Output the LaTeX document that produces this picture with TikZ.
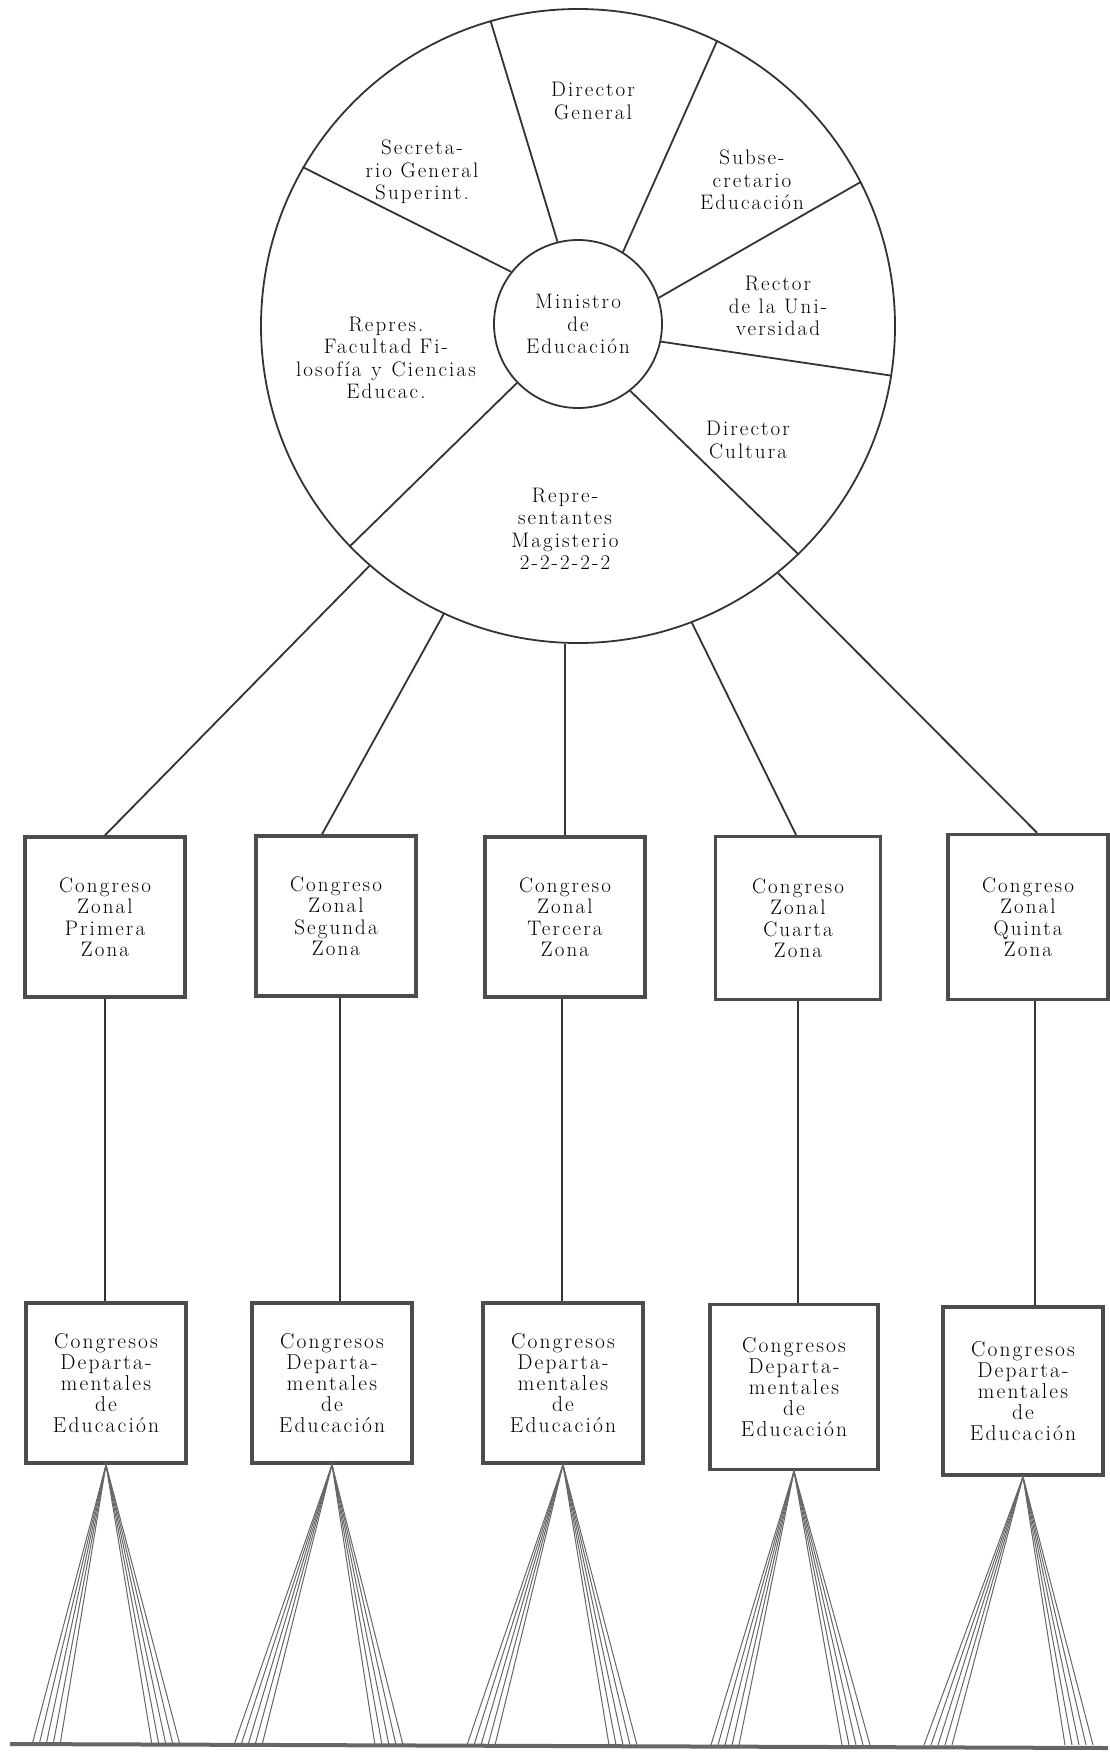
\documentclass[tikz,border=0pt]{standalone}
\usepackage{fontspec}
\newfontfamily\widefont[LetterSpace=10]{Latin Modern Roman}
\begin{document}
\begin{tikzpicture}[x=1pt,y=1pt,
  ring/.style={circle,draw=black!80,line width=1.8pt,inner sep=0pt},
  lbl/.style={align=center,inner sep=0pt,font=\widefont\fontsize{21}{22.5}\selectfont},
  zonebox/.style={draw=black!70,line width=3.5pt,minimum width=160pt,minimum height=160pt,align=center,inner sep=0pt,font=\widefont\fontsize{21}{21.5}\selectfont},
  deptbox/.style={zonebox,font=\widefont\fontsize{21.5}{21}\selectfont},
  link/.style={draw=black!80,line width=1.8pt},
  fan/.style={draw=black!60,line width=1pt},
  base/.style={draw=black!60,line width=4pt}]
\useasboundingbox (0,0) rectangle (1110,-1757);
\node[ring,minimum size=634pt] (consejo) at (578,-326) {};
\node[ring,minimum size=168pt,lbl] (ministro) at (578,-324) {Ministro\\de\\Educación};
\node[lbl] (secretario) at (422,-172) {Secreta-\\rio General\\Superint.};
\node[lbl] (director) at (593,-101) {Director\\General};
\node[lbl] (subse) at (752,-180) {Subse-\\cretario\\Educación};
\node[lbl] (rector) at (778,-306) {Rector\\de la Uni-\\versidad};
\node[lbl] (cultura) at (748,-440) {Director\\Cultura};
\node[lbl] (magisterio) at (565,-529) {Repre-\\sentantes\\Magisterio\\2-2-2-2-2};
\node[lbl] (facultad) at (386,-358) {Repres.\\Facultad\hspace{8pt}Fi-\\losofía\hspace{10pt}y\hspace{10pt}Ciencias\\Educac.};
\draw[link] (ministro.104) -- (consejo.106);
\draw[link] (ministro.58) -- (consejo.64);
\draw[link] (ministro.18) -- (consejo.27);
\draw[link] (ministro.-12) -- (consejo.-9.5);
\draw[link] (ministro.-52) -- (consejo.-46);
\draw[link] (ministro.224) -- (consejo.224);
\draw[link] (ministro.142) -- (consejo.150);
\node[zonebox] (z1) at (105,-917) {Congreso\\Zonal\\Primera\\Zona};
\node[zonebox] (z2) at (336,-916) {Congreso\\Zonal\\Segunda\\Zona};
\node[zonebox] (z3) at (565,-917) {Congreso\\Zonal\\Tercera\\Zona};
\node[zonebox,minimum width=165pt,minimum height=163pt] (z4) at (798,-918) {Congreso\\Zonal\\Cuarta\\Zona};
\node[zonebox,minimum height=165pt] (z5) at (1028,-917) {Congreso\\Zonal\\Quinta\\Zona};
\draw[link] (consejo.229) -- (z1.north);
\draw[link] (consejo.245) -- ([xshift=-14pt]z2.north);
\draw[link] (z3.north) -- (z3.north |- consejo.south);
\draw[link] (consejo.-69) -- ([xshift=-2pt]z4.north);
\draw[link] (consejo.-51) -- ([xshift=9pt]z5.north);
\node[deptbox] (d1) at (106,-1383) {Congresos\\Departa-\\mentales\\de\\Educación};
\node[deptbox] (d2) at (332,-1383) {Congresos\\Departa-\\mentales\\de\\Educación};
\node[deptbox] (d3) at (563,-1383) {Congresos\\Departa-\\mentales\\de\\Educación};
\node[deptbox,minimum width=168pt,minimum height=165pt] (d4) at (794,-1387) {Congresos\\Departa-\\mentales\\de\\Educación};
\node[deptbox,minimum height=168pt] (d5) at (1023,-1391) {Congresos\\Departa-\\mentales\\de\\Educación};
\draw[link] (z1.south) -- (z1.south |- d1.north);
\draw[link] ([xshift=4pt]z2.south) -- ([xshift=4pt]z2.south |- d2.north);
\draw[link] ([xshift=-3pt]z3.south) -- ([xshift=-3pt]z3.south |- d3.north);
\draw[link] (z4.south) -- (z4.south |- d4.north);
\draw[link] ([xshift=7pt]z5.south) -- ([xshift=7pt]z5.south |- d5.north);
\foreach \n/\l/\r in {1/32/152,2/234/375,3/467/609,4/711/842,5/924/1065}{
  \foreach \k in {0,7,14,21,28}{
    \coordinate (fl) at (\l+\k,-1745);
    \coordinate (fr) at (\r+\k,-1745);
    \draw[fan] (fl) -- (d\n.south) -- (fr);
  }
}
\coordinate (b0) at (10,-1744);
\coordinate (b1) at (1108,-1748);
\draw[base] (b0) -- (b1);
\end{tikzpicture}
\end{document}
